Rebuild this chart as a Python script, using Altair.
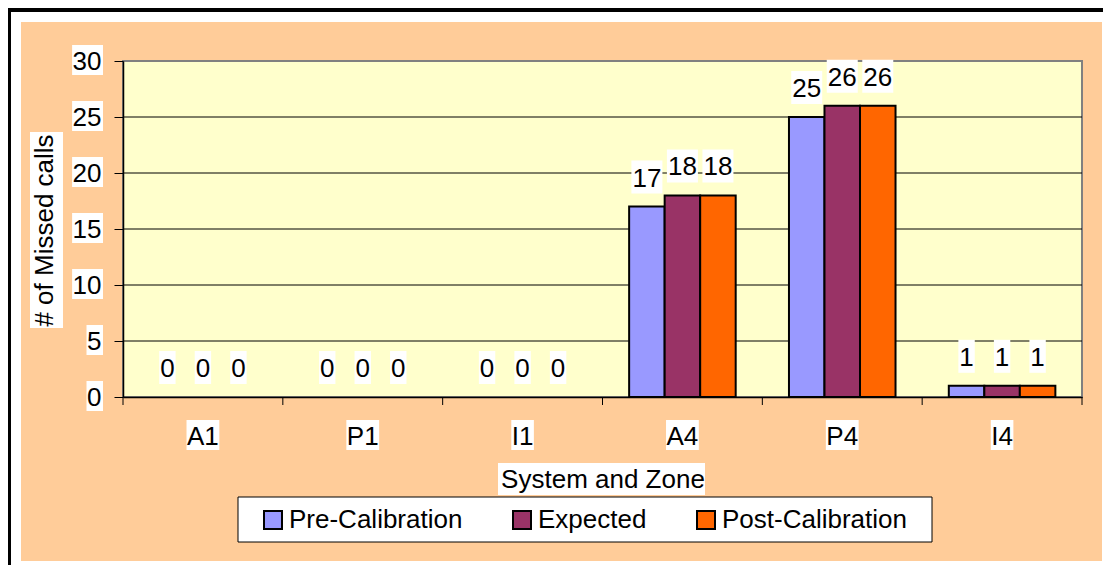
import altair as alt
import pandas as pd

# ---------------- data ----------------
categories = ["A1", "P1", "I1", "A4", "P4", "I4"]
series = ["Pre-Calibration", "Expected", "Post-Calibration"]
pre_calibration = [0, 0, 0, 17, 25, 1]
expected = [0, 0, 0, 18, 26, 1]
post_calibration = [0, 0, 0, 18, 26, 1]
y_ticks = [0, 5, 10, 15, 20, 25, 30]
grid_values = [5, 10, 15, 20, 25]
colors = ["#9999FF", "#993366", "#FF6600"]

# ---------------- style ----------------
FONT = "Liberation Sans"
FS = 26
W, H = 959, 336
PEACH = "#FFCC99"
PLOT_BG = "#FFFFCC"

# approximate Arial advance widths (em) used to size white label boxes
CW = {str(d): 0.556 for d in range(10)}
CW.update({"A": 0.667, "P": 0.667, "I": 0.278})


def text_w(s):
    return sum(CW.get(c, 0.556) for c in s) * FS


def box_path(w, top, bottom, anchor="center"):
    if anchor == "center":
        l, r = -w / 2, w / 2
    else:
        l, r = -w, 0
    return f"M{l:.1f},{top}H{r:.1f}V{bottom}H{l:.1f}Z"


rows = []
for i, c in enumerate(categories):
    for s, vals in zip(series, [pre_calibration, expected, post_calibration]):
        v = vals[i]
        rows.append({"cat": c, "series": s, "value": v, "label": str(v),
                     "box": box_path(text_w(str(v)) + 2, -46, -13)})
df = pd.DataFrame(rows)

df_yt = pd.DataFrame({"value": y_ticks,
                      "box": [box_path(text_w(str(v)) + 2, -16, 14, "right") for v in y_ticks]})
df_cat = pd.DataFrame({"cat": categories,
                       "box": [box_path(text_w(c) + 1, -15, 15) for c in categories]})
df_grid = pd.DataFrame({"value": grid_values})
one = alt.Data(values=[{}])

xscale = alt.Scale(domain=categories, paddingInner=0, paddingOuter=0)
yscale = alt.Scale(domain=[0, 30])
offscale = alt.Scale(domain=series, paddingInner=0, paddingOuter=0.75)

xaxis = alt.Axis(title="System and Zone", labelAngle=0, ticks=False, tickSize=0,
                 labelPadding=26, labelFontSize=FS, labelFont=FONT, labelColor="black",
                 domainColor="black", domainWidth=1.5, grid=False,
                 titleFont=FONT, titleFontSize=FS, titleFontWeight="normal",
                 titleColor="black", titleX=479.5, titleY=90,
                 titleBaseline="alphabetic", titleAlign="center", zindex=1)
yaxis = alt.Axis(values=y_ticks, title="# of Missed calls", grid=False,
                 tickSize=9, tickColor="black", tickWidth=1,
                 domainColor="black", domainWidth=1.5,
                 labelPadding=13, labelFontSize=FS, labelFont=FONT,
                 labelColor="black", labelBaseline="middle",
                 titleFont=FONT, titleFontSize=FS, titleFontWeight="normal",
                 titleColor="black", titleAngle=270, titleX=-79, titleY=169,
                 titleAlign="center", titleBaseline="middle", zindex=1)


def X(**kw):
    return alt.X("cat:N", scale=xscale, sort=categories, axis=xaxis, **kw)


def Y():
    return alt.Y("value:Q", scale=yscale, axis=yaxis)


def rect(x, x2, y, y2, **kw):
    return alt.Chart(one).mark_rect(**kw).encode(
        x=alt.value(x), x2=alt.value(x2), y=alt.value(y), y2=alt.value(y2))


# frame + backgrounds
frame_top = rect(-115, 980, -53, -49, color="black")
frame_left = rect(-115, -112, -53, 504, color="black")
peach = rect(-102, 979, -39, 500, color=PEACH)
plot_bg = rect(0, W, 0, H, fill=PLOT_BG, stroke="#808080", strokeWidth=2)

grid = alt.Chart(df_grid).mark_rule(color="black", strokeWidth=1).encode(
    y=Y(), x=alt.value(0), x2=alt.value(W))

xticks = alt.Chart(pd.DataFrame({"cat": categories})).mark_rule(color="black", strokeWidth=1).encode(
    x=X(bandPosition=0), y=alt.value(H), y2=alt.value(H + 8))
xtick_end = alt.Chart(one).mark_rule(color="black", strokeWidth=1).encode(
    x=alt.value(W), y=alt.value(H), y2=alt.value(H + 8))

# white boxes behind texts
pt = dict(filled=True, color="white", size=4, opacity=1, strokeWidth=0)
ytick_boxes = alt.Chart(df_yt).mark_point(**pt).encode(
    y=Y(), x=alt.value(-20), shape=alt.Shape("box:N", scale=None))
cat_boxes = alt.Chart(df_cat).mark_point(**pt).encode(
    x=X(), y=alt.value(374), shape=alt.Shape("box:N", scale=None))
val_boxes = alt.Chart(df).mark_point(**pt).encode(
    x=X(), xOffset=alt.XOffset("series:N", scale=offscale), y=Y(),
    shape=alt.Shape("box:N", scale=None))
xtitle_box = rect(375, 582, 402, 434, color="white")
ytitle_box = rect(-93, -60, 71, 267, color="white")
legend_box = rect(115, 809, 436, 481, fill="white", stroke="black", strokeWidth=1)

bars = alt.Chart(df).transform_filter(alt.datum.value > 0).mark_bar(
    stroke="black", strokeWidth=2, opacity=1).encode(
    x=X(),
    xOffset=alt.XOffset("series:N", scale=offscale),
    y=Y(),
    color=alt.Color("series:N", scale=alt.Scale(domain=series, range=colors),
                    legend=alt.Legend(title=None, orient="none", legendX=137, legendY=446,
                                      direction="horizontal", columns=3, columnPadding=46,
                                      symbolType="square", symbolSize=324,
                                      symbolStrokeColor="black", symbolStrokeWidth=2,
                                      labelFontSize=FS, labelFont=FONT, labelColor="black",
                                      labelOffset=3, labelLimit=400, padding=0, zindex=1)),
)

labels = alt.Chart(df).mark_text(fontSize=FS, font=FONT, color="black",
                                 baseline="alphabetic", dy=-20).encode(
    x=X(), xOffset=alt.XOffset("series:N", scale=offscale), y=Y(),
    text="label:N")

chart = alt.layer(
    frame_top, frame_left, peach, plot_bg, grid, xticks, xtick_end,
    ytick_boxes, cat_boxes, xtitle_box, ytitle_box, legend_box, val_boxes,
    bars, labels,
).properties(
    width=W, height=H,
    padding={"left": 115, "top": 53, "right": 21, "bottom": 168},
    autosize=alt.AutoSizeParams(type="none"),
    background="white",
).configure_view(strokeWidth=0)

chart.save("out.html", embed_options={"renderer": "svg", "actions": False})
